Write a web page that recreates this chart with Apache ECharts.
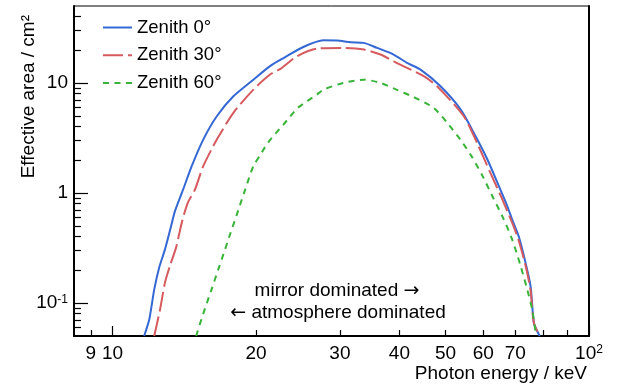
<!DOCTYPE html>
<html><head><meta charset="utf-8">
<script src="https://cdn.jsdelivr.net/npm/echarts@6/dist/echarts.min.js"></script>
<style>html,body{margin:0;padding:0;background:#fff}#c{width:622px;height:391px}</style>
</head><body><div id="c"></div>
<script>
// ---- data ----
const seriesNames = ['Zenith 0°', 'Zenith 30°', 'Zenith 60°'];
const energy0 = [11.65, 11.94, 12.23, 12.52, 12.88, 13.23, 13.52, 14.06, 14.66, 15.5, 16.55, 17.93, 19.75, 21.41, 22.9, 25.2, 27.7, 29.6, 31.6, 33.7, 35.9, 38.9, 41.5, 44.3, 48.8, 53.8, 57.8, 61.2, 64.7, 67.4, 69.0, 71.2, 73.6, 75.4, 76.6, 77.9, 78.8];
const area0   = [0.05, 0.0705, 0.132, 0.208, 0.305, 0.474, 0.683, 1.07, 1.75, 3.05, 4.97, 7.55, 10.7, 14.2, 16.9, 21.3, 24.4, 24.3, 23.4, 23.1, 20.8, 18.1, 15.2, 13.2, 9.31, 5.71, 3.27, 2.01, 1.15, 0.755, 0.571, 0.403, 0.231, 0.1416, 0.0658, 0.0552, 0.05];
const energy30 = [12.23, 12.58, 12.88, 13.2, 13.59, 13.99, 14.39, 14.89, 15.5, 16.55, 17.93, 19.75, 21.41, 22.5, 24.4, 26.85, 30.5, 33.7, 36.5, 38.9, 41.5, 45.0, 48.0, 54.6, 58.2, 62.1, 65.8, 68.8, 71.1, 73.6, 75.4, 76.6, 78.8];
const area30   = [0.05, 0.0869, 0.152, 0.218, 0.318, 0.548, 0.816, 1.07, 1.75, 3.05, 5.34, 8.69, 11.9, 13.4, 17.5, 20.5, 20.8, 20.1, 18.1, 15.7, 13.7, 11.5, 9.31, 4.97, 2.85, 1.52, 0.869, 0.55, 0.375, 0.218, 0.13, 0.0658, 0.05];
const energy60 = [14.98, 15.48, 16.13, 16.71, 17.22, 17.61, 18.2, 18.98, 19.75, 20.4, 21.21, 22.84, 24.53, 26.85, 27.73, 30.55, 33.66, 36.5, 39.4, 42.85, 47.2, 50.4, 53.7, 56.7, 59.8, 62.7, 65.8, 69.0, 71.9, 74.2, 76.0, 77.3, 77.6];
const area60   = [0.05, 0.0783, 0.132, 0.208, 0.305, 0.409, 0.622, 1.07, 1.75, 2.2, 2.87, 4.18, 5.96, 7.83, 8.69, 10, 10.7, 10, 8.69, 7.43, 5.93, 4.33, 3.05, 2.15, 1.42, 0.931, 0.612, 0.376, 0.215, 0.132, 0.0869, 0.0533, 0.05];

const xRange = [8.3, 100];
const yRange = [0.05, 50];
const xTickLabels = [9, 10, 20, 30, 40, 50, 60, 70, 100];
const xMajorTicks = [10, 100];
const xMinorTicks = [9, 20, 30, 40, 50, 60, 70, 80, 90];
const yTickLabels = [0.1, 1, 10];
const yMajorTicks = [0.1, 1, 10];
const yMinorTicks = [0.06, 0.07, 0.08, 0.09, 0.2, 0.3, 0.4, 0.5, 0.6, 0.7, 0.8, 0.9, 2, 3, 4, 5, 6, 7, 8, 9, 20, 30, 40];
const xTitle = 'Photon energy / keV';
const yTitle = 'Effective area / cm²';
const note1 = 'mirror dominated {arr|→}';
const note2 = '{arr|←} atmosphere dominated';

// ---- chart ----
const FONT = '"Liberation Sans", Arial, Helvetica, sans-serif';
const lg = Math.log10;
const colors = ['#3468d4', '#d65a5e', '#38b438'];
const dashes = ['solid', [20, 5], [6, 5.5]];
const pairs = (E, A) => E.map((e, i) => [e, A[i]]);
const datasets = [pairs(energy0, area0), pairs(energy30, area30), pairs(energy60, area60)];

function supLabel(v) {
  const n = Math.round(Math.pow(10, v) * 1000) / 1000;
  if (n === 100) return '10{sup|2}';
  if (n === 0.1) return '10{sup|-1}';
  return String(n);
}
const richSup = { sup: { fontSize: 12, verticalAlign: 'top', fontFamily: FONT, color: '#000' } };
const richArrow = { arr: { fontFamily: '"DejaVu Sans", sans-serif', fontSize: 19, fill: '#000', color: '#000' } };
const noLine = { show: false, onZero: false };

const xLog = [lg(xRange[0]), lg(xRange[1])];
const yLog = [lg(yRange[0]), lg(yRange[1])];

const option = {
  animation: false,
  backgroundColor: '#fff',
  textStyle: { fontFamily: FONT },
  grid: { left: 74, right: 33, top: 6, bottom: 55, show: true, borderColor: '#000', borderWidth: 1, backgroundColor: 'transparent', outerBoundsMode: 'none', containLabel: false },
  legend: {
    orient: 'vertical', left: 102, top: 18, padding: 0,
    itemWidth: 29, itemHeight: 18, itemGap: 8.7,
    itemStyle: { opacity: 0 },
    textStyle: { fontSize: 18.5, color: '#000', fontFamily: FONT },
    data: seriesNames
  },
  xAxis: [
    { type: 'log', min: xRange[0], max: xRange[1], position: 'bottom',
      axisLine: { show: true, onZero: false, lineStyle: { color: '#000', width: 2 } },
      axisTick: { show: false }, axisLabel: { show: false }, splitLine: { show: false } },
    { type: 'value', min: xLog[0], max: xLog[1], position: 'bottom', axisLine: noLine, splitLine: { show: false },
      axisTick: { show: true, inside: true, length: 10, customValues: xMajorTicks.map(lg), lineStyle: { color: '#000', width: 1.2 } },
      axisLabel: { show: true, customValues: xTickLabels.map(lg), formatter: supLabel, margin: 8, fontSize: 19, color: '#000', fontFamily: FONT, rich: richSup } },
    { type: 'value', min: xLog[0], max: xLog[1], position: 'bottom', axisLine: noLine, splitLine: { show: false },
      axisTick: { show: true, inside: true, length: 6, customValues: xMinorTicks.map(lg), lineStyle: { color: '#000', width: 1.2 } },
      axisLabel: { show: false } }
  ],
  yAxis: [
    { type: 'log', min: yRange[0], max: yRange[1], position: 'left',
      axisLine: { show: true, onZero: false, lineStyle: { color: '#000', width: 2 } },
      axisTick: { show: false }, axisLabel: { show: false }, splitLine: { show: false } },
    { type: 'value', min: yLog[0], max: yLog[1], position: 'left', axisLine: noLine, splitLine: { show: false },
      axisTick: { show: true, inside: true, length: 14, customValues: yMajorTicks.map(lg), lineStyle: { color: '#000', width: 1.2 } },
      axisLabel: { show: true, customValues: yTickLabels.map(lg), formatter: supLabel, margin: 6, fontSize: 19, color: '#000', fontFamily: FONT, rich: richSup } },
    { type: 'value', min: yLog[0], max: yLog[1], position: 'left', axisLine: noLine, splitLine: { show: false },
      axisTick: { show: true, inside: true, length: 7, customValues: yMinorTicks.map(lg), lineStyle: { color: '#000', width: 1.2 } },
      axisLabel: { show: false } },
    { type: 'value', min: yLog[0], max: yLog[1], position: 'right',
      axisLine: { show: true, onZero: false, lineStyle: { color: '#000', width: 2 } },
      axisTick: { show: false }, axisLabel: { show: false }, splitLine: { show: false } }
  ],
  series: datasets.map((d, i) => ({
    name: seriesNames[i], type: 'line', xAxisIndex: 0, yAxisIndex: 0, data: d,
    symbol: 'none', showSymbol: false, smooth: 0.25, clip: true,
    lineStyle: { color: colors[i], width: 2, type: dashes[i], cap: 'butt' },
    itemStyle: { color: colors[i] }
  })),
  graphic: [
    { type: 'text', x: 29, y: 15, rotation: Math.PI / 2,
      style: { text: yTitle, font: '19px ' + FONT, fill: '#000', align: 'right', verticalAlign: 'middle', textAlign: 'right', textVerticalAlign: 'middle' } },
    { type: 'text', x: 587, y: 374,
      style: { text: xTitle, font: '19px ' + FONT, fill: '#000', align: 'right', verticalAlign: 'middle', textAlign: 'right', textVerticalAlign: 'middle' } },
    { type: 'text', x: 337, y: 291,
      style: { text: note1, font: '19px ' + FONT, fill: '#000', rich: richArrow, align: 'center', verticalAlign: 'middle', textAlign: 'center', textVerticalAlign: 'middle' } },
    { type: 'text', x: 338, y: 313,
      style: { text: note2, font: '19px ' + FONT, fill: '#000', rich: richArrow, align: 'center', verticalAlign: 'middle', textAlign: 'center', textVerticalAlign: 'middle' } }
  ]
};
const chart = echarts.init(document.getElementById('c'), null, { renderer: 'canvas' });
chart.setOption(option);
</script>
</body></html>
